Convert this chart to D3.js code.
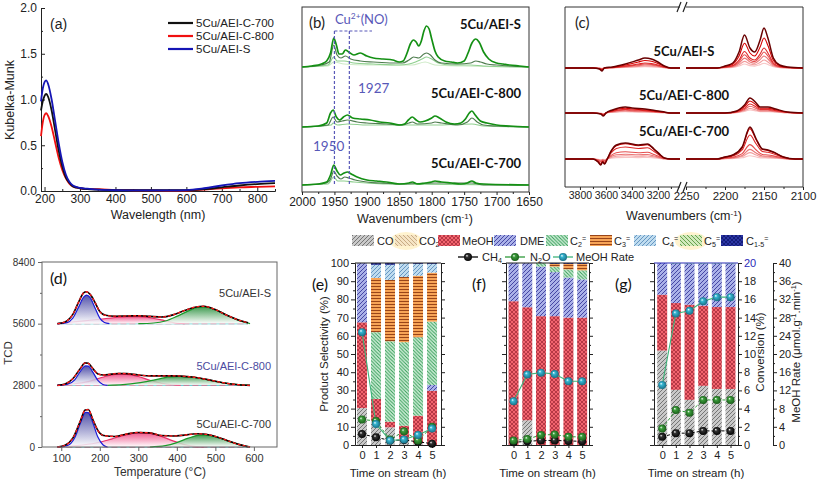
<!DOCTYPE html>
<html><head><meta charset="utf-8">
<script src="https://cdn.jsdelivr.net/npm/d3@7"></script>
<style>body{margin:0;background:#fff} svg{display:block}</style>
</head><body><svg id="c" width="817" height="481"></svg>
<script>
// ---------------- DATA ----------------
// (a) UV-vis
const A_WL   = [190,195,200,205,210,220,230,240,250,260,270,280,300,320,350,400,450,500,550,600,650,700,750,800,850];
const A_C700 = [0.88,0.98,1.04,1.06,1.03,0.88,0.66,0.44,0.27,0.15,0.09,0.05,0.03,0.02,0.015,0.01,0.01,0.01,0.01,0.01,0.02,0.04,0.06,0.075,0.085];
const A_C800 = [0.60,0.75,0.83,0.85,0.82,0.70,0.53,0.36,0.23,0.14,0.08,0.05,0.03,0.02,0.02,0.01,0.008,0.006,0.005,0.005,0.015,0.03,0.04,0.045,0.05];
const A_S    = [0.98,1.12,1.19,1.21,1.17,1.00,0.76,0.52,0.32,0.18,0.10,0.06,0.035,0.025,0.015,0.008,0.006,0.006,0.007,0.01,0.03,0.06,0.085,0.10,0.11];
const A_NAMES = ["5Cu/AEI-C-700","5Cu/AEI-C-800","5Cu/AEI-S"];
const A_XTICKS = [200,300,400,500,600,700,800];
const A_YTICKS = [0,0.5,1.0,1.5,2.0];

// (b) NO-IR, [wavenumber, intensity above own baseline]
const B_NAMES = ["5Cu/AEI-S","5Cu/AEI-C-800","5Cu/AEI-C-700"];
const B_OFFSETS = [125, 65, 7];
const B_S_DARK = [[2000,0],[1985,1],[1970,3],[1962,6],[1956,14],[1951,29],[1947,22],[1943,13],[1938,13],[1933,17],[1928,15],[1920,12],[1910,14],[1900,11],[1890,9],[1875,8],[1860,7],[1850,5],[1844,6],[1838,14],[1833,23],[1828,27],[1824,25],[1820,21],[1816,26],[1812,36],[1808,41],[1804,38],[1800,28],[1795,16],[1790,10],[1780,6],[1770,5],[1760,4],[1750,6],[1744,14],[1738,24],[1732,28],[1727,25],[1720,15],[1712,8],[1700,4],[1690,3],[1680,2],[1665,1],[1650,0]];
const B_S_MID = [[2000,0],[1970,2],[1958,5],[1951,22],[1946,12],[1940,9],[1933,11],[1925,8],[1910,6],[1890,5],[1860,4],[1845,4],[1835,7],[1828,10],[1820,9],[1812,13],[1808,14],[1802,12],[1795,7],[1785,4],[1760,3],[1740,4],[1732,6],[1725,5],[1715,3],[1700,2],[1680,1],[1650,0]];
const B_S_LIGHT = [[2000,0],[1960,2],[1951,10],[1946,6],[1935,6],[1920,4],[1890,3],[1850,2],[1835,3],[1825,5],[1815,8],[1808,10],[1800,8],[1790,4],[1770,2],[1740,2],[1720,1],[1650,0]];
const B_S_PALE = [[2000,0],[1960,1],[1951,5],[1935,3],[1900,2],[1830,2],[1810,5],[1795,2],[1750,1],[1650,0]];
const B_800_DARK = [[2000,0],[1975,1],[1962,4],[1956,14],[1952,17],[1947,10],[1942,7],[1936,10],[1930,12],[1922,9],[1910,8],[1895,7],[1880,5],[1865,4],[1850,2],[1842,3],[1836,7],[1830,10],[1824,7],[1818,5],[1810,6],[1800,9],[1795,11],[1788,9],[1778,5],[1765,3],[1755,4],[1748,8],[1742,14],[1738,16],[1733,12],[1725,6],[1715,4],[1700,2],[1680,1],[1650,0]];
const B_800_MID = [[2000,0],[1960,2],[1952,10],[1946,5],[1938,6],[1930,7],[1915,5],[1900,4],[1870,3],[1845,2],[1835,4],[1830,5],[1822,3],[1800,4],[1795,5],[1785,4],[1760,2],[1745,5],[1738,9],[1730,5],[1720,2],[1700,1],[1650,0]];
const B_800_LIGHT = [[2000,0],[1955,2],[1952,4],[1945,2],[1930,3],[1900,2],[1830,2],[1795,2],[1738,3],[1720,1],[1650,0]];
const B_700_DARK = [[2000,0],[1975,1],[1962,3],[1956,10],[1951,20],[1946,14],[1941,10],[1935,12],[1930,13],[1924,11],[1915,8],[1900,5],[1885,4],[1870,3],[1850,1],[1835,2],[1830,3],[1822,1],[1810,2],[1800,3],[1795,4],[1785,3],[1770,2],[1755,1],[1745,2],[1738,4],[1732,2],[1720,1],[1650,0]];
const B_700_MID = [[2000,0],[1962,2],[1956,6],[1951,14],[1946,9],[1940,6],[1934,8],[1928,7],[1918,5],[1900,3],[1880,2],[1850,1],[1795,2],[1738,2],[1720,0],[1650,0]];
const B_700_LIGHT = [[2000,0],[1960,1],[1951,8],[1945,4],[1935,4],[1920,3],[1900,2],[1870,1],[1650,0]];
const B_XTICKS = [2000,1950,1900,1850,1800,1750,1700,1650];
const B_MARKS = [1950, 1927];

// (c) CO-IR, broken axis
const C_NAMES = ["5Cu/AEI-S","5Cu/AEI-C-800","5Cu/AEI-C-700"];
const C_OFFSETS = [119, 74, 28];
const C_S_LEFT  = [[3915,0],[3700,0],[3650,-1],[3630,-3],[3612,0],[3550,1],[3450,4],[3350,8],[3300,10],[3250,9],[3200,6],[3150,2],[3100,0],[3030,0]];
const C_S_RIGHT = [[2250,0],[2210,0],[2200,2],[2190,5],[2182,16],[2175,33],[2168,20],[2162,16],[2155,28],[2150,40],[2145,30],[2138,10],[2130,3],[2120,1],[2100,0]];
const C_800_LEFT  = [[3915,0],[3700,0],[3640,-1],[3620,-3],[3600,0],[3550,3],[3450,6],[3400,5],[3300,4],[3200,2],[3150,1],[3100,0],[3030,0]];
const C_800_RIGHT = [[2250,0],[2200,0],[2185,2],[2175,8],[2168,15],[2160,10],[2155,6],[2145,6],[2135,4],[2120,1],[2100,0]];
const C_700_LEFT  = [[3915,0],[3700,0],[3660,-3],[3640,-6],[3625,-3],[3610,-5],[3590,0],[3560,8],[3520,14],[3450,16],[3350,14],[3280,15],[3230,10],[3180,4],[3150,1],[3100,0],[3030,0]];
const C_700_RIGHT = [[2250,0],[2210,0],[2200,2],[2190,4],[2178,12],[2168,32],[2160,20],[2152,10],[2145,9],[2138,7],[2125,2],[2110,0],[2100,0]];
const C_S_LEVELS   = [0.12,0.2,0.3,0.4,0.5,0.75,1.0];
const C_800_LEVELS = [0.2,0.3,0.45,0.6,0.8,1.0];
const C_700_LEVELS = [0.1,0.2,0.3,0.45,0.75,0.95,1.0];
const C_XTICKS_L = [3800,3600,3400,3200];
const C_XTICKS_R = [2250,2200,2150,2100];

// (d) H2-TPR, [temperature, TCD above own baseline]
const D_NAMES = ["5Cu/AEI-S","5Cu/AEI-C-800","5Cu/AEI-C-700"];
const D_OFFSETS = [5600, 2800, 0];
const D_S_BLUE  = [[90,0],[115,50],[130,250],[145,750],[158,1200],[166,1300],[175,1180],[188,700],[200,250],[212,50],[225,0]];
const D_S_PINK  = [[90,0],[120,60],[160,130],[200,200],[240,280],[270,320],[300,320],[330,270],[360,170],[380,80],[400,20],[420,0]];
const D_S_GREEN = [[300,0],[340,30],[370,120],[400,330],[430,580],[460,760],[480,740],[510,560],[540,300],[560,150],[580,50],[590,0]];
const D_S_TOTAL = [[90,0],[110,80],[130,420],[145,980],[158,1400],[165,1450],[175,1330],[188,950],[200,550],[215,380],[240,340],[270,350],[300,360],[330,330],[360,300],[390,400],[420,600],[450,760],[470,790],[500,640],[530,380],[560,170],[585,40]];
const D_800_BLUE  = [[90,0],[115,40],[135,250],[150,650],[163,880],[170,870],[182,600],[195,220],[208,40],[220,0]];
const D_800_PINK  = [[90,0],[130,60],[170,170],[210,380],[240,500],[270,500],[300,400],[330,230],[360,90],[390,20],[410,0]];
const D_800_GREEN = [[220,0],[260,30],[300,110],[340,240],[380,380],[410,410],[440,370],[480,250],[520,110],[560,30],[590,0]];
const D_800_TOTAL = [[90,0],[110,60],[130,300],[150,780],[162,1020],[170,1000],[182,760],[195,520],[210,470],[230,510],[250,540],[270,530],[300,470],[330,430],[360,430],[390,430],[410,420],[440,380],[480,260],[520,120],[560,30],[590,0]];
const D_700_BLUE  = [[90,0],[115,60],[135,420],[150,1100],[163,1570],[170,1560],[182,1100],[195,450],[208,100],[220,0]];
const D_700_PINK  = [[90,0],[140,60],[190,180],[230,360],[270,560],[300,640],[330,620],[360,480],[390,280],[420,110],[450,20],[470,0]];
const D_700_GREEN = [[330,0],[370,60],[400,200],[430,400],[460,540],[480,540],[510,420],[540,230],[570,70],[590,0]];
const D_700_TOTAL = [[90,0],[110,80],[130,400],[150,1200],[162,1680],[170,1700],[182,1250],[195,750],[210,520],[240,480],[270,590],[300,660],[330,640],[360,520],[390,500],[420,540],[450,600],[470,590],[500,480],[530,300],[560,120],[590,0]];
const D_XTICKS = [100,200,300,400,500,600];
const D_YTICKS = [0,2800,5600,8400];

// (e)(f)(g) product selectivity (%) at time on stream 0..5 h
const TIMES = [0,1,2,3,4,5];
const SEL_KEYS = ["CO","CO2","MeOH","DME","C2","C3","C4","C5","C15"];
const E_CO   = [20.3,13.4,9.7,3,1,0];
const E_CO2  = [0,0,0,0,0,0];
const E_MEOH = [47.1,11.9,3.1,7.6,15.1,29.8];
const E_DME  = [32.6,0,0,0,0,3.2];
const E_C2   = [0,36.7,44.2,45.9,43.1,34.8];
const E_C3   = [0,29.8,33.7,35.8,33.8,26.9];
const E_C4   = [0,7.2,8.3,7.7,6.5,4.8];
const E_C5   = [0,0,0,0,0,0];
const E_C15  = [0,1,1,0,0.5,0.5];
const F_CO   = [0,13.6,0,0,0,0];
const F_CO2  = [0,0,0,0,0,0];
const F_MEOH = [79,62.1,70.8,70.8,70,70];
const F_DME  = [21,24.3,27.2,24.2,22,21];
const F_C2   = [0,0,2,3,4.5,5];
const F_C3   = [0,0,0,1.5,3,3.5];
const F_C4   = [0,0,0,0,0,0];
const F_C5   = [0,0,0,0,0,0];
const F_C15  = [0,0,0,0.5,0.5,0.5];
const G_CO   = [51.9,30.3,24.8,32.5,30.8,30.8];
const G_CO2  = [0,0,0,0,0,0];
const G_MEOH = [30.7,47.7,52.3,44,45,45];
const G_DME  = [17.4,21.5,22.4,23,23.7,23.7];
const G_C2   = [0,0.5,0.5,0.5,0.5,0.5];
const G_C3   = [0,0,0,0,0,0];
const G_C4   = [0,0,0,0,0,0];
const G_C5   = [0,0,0,0,0,0];
const G_C15  = [0,0,0,0,0,0];
// conversion (%) and MeOH rate (umol g-1 min-1)
const E_CH4 = [1.2,0.85,0.5,0.55,0.35,0.15];
const E_N2O = [2.8,2.65,0.6,1.5,0.5,2.0];
const E_RATE = [24.8,4.6,1.0,1.2,2.2,3.6];
const F_CH4 = [0.3,0.4,0.5,0.5,0.45,0.4];
const F_N2O = [0.5,0.65,1.1,1.15,0.9,0.9];
const F_RATE = [9.6,15.5,15.9,15.6,14.0,14.0];
const G_CH4 = [0.9,1.3,1.3,1.55,1.55,1.55];
const G_N2O = [1.8,3.85,3.55,4.95,4.95,4.95];
const G_RATE = [13.2,28.9,29.5,31.6,32.5,32.5];
const SEL_TICKS = [0,10,20,30,40,50,60,70,80,90,100];
const CONV_TICKS = [0,2,4,6,8,10,12,14,16,18,20];
const RATE_TICKS = [0,4,8,12,16,20,24,28,32,36,40];

// ---------------- DRAWING ----------------
const ARIAL = '"Liberation Sans", Arial, sans-serif';
const CAL = 'Lato, "Open Sans", sans-serif';
const svg = d3.select("#c");
svg.append("rect").attr("width",817).attr("height",481).attr("fill","#fff");
const defs = svg.append("defs");
const fmtD = d3.format("d");

function ax(parent, gen, t, o = {}) {
  const col = o.color || "#222";
  const g = parent.append("g").attr("transform", t).call(gen);
  g.selectAll("text").attr("font-size", o.fs || 11).attr("font-family", o.ff || ARIAL).attr("fill", o.tcolor || col);
  g.select(".domain").attr("stroke", col).attr("stroke-width", o.sw || 1);
  g.selectAll(".tick line").attr("stroke", col).attr("stroke-width", o.tw || 1);
  if (o.noDomain) g.select(".domain").remove();
  return g;
}
function text(parent, x, y, parts, o = {}) {
  const fs = o.fs || 11;
  const t = parent.append("text").attr("x", x).attr("y", y)
    .attr("font-family", o.ff || ARIAL).attr("font-size", fs)
    .attr("fill", o.color || "#222").attr("text-anchor", o.anchor || "start")
    .attr("font-weight", o.fw || "normal");
  if (o.rotate) t.attr("transform", `rotate(-90,${x},${y})`);
  (Array.isArray(parts) ? parts : [[parts, ""]]).forEach(([s, k]) => {
    const ts = t.append("tspan").text(s);
    if (k === "sub") ts.attr("baseline-shift", -Math.round(fs*0.2)).attr("font-size", fs * 0.65);
    if (k === "sup") ts.attr("baseline-shift", Math.round(fs*0.35)).attr("font-size", fs * 0.65);
  });
  return t;
}
const wn = [["Wavenumbers (cm",""],["-1","sup"],[")",""]];

// ===== (a) =====
{
  const x = d3.scaleLinear([190,850],[41,275]);
  const y = d3.scaleLinear([0,2],[191,8]);
  const g = svg.append("g");
  ax(g, d3.axisBottom(x).tickValues(d3.range(250,851,100)).tickSize(-2).tickFormat("").tickSizeOuter(0), "translate(0,191)");
  ax(g, d3.axisBottom(x).tickValues(A_XTICKS).tickSize(-4).tickPadding(3).tickSizeOuter(0), "translate(0,191)", {fs:12});
  ax(g, d3.axisLeft(y).tickValues(d3.range(0.25,2,0.5)).tickSize(-2).tickFormat("").tickSizeOuter(0), "translate(41,0)");
  ax(g, d3.axisLeft(y).tickValues(A_YTICKS).tickSize(-4).tickPadding(4).tickFormat(d3.format(".1f")).tickSizeOuter(0), "translate(41,0)", {fs:12});
  text(g, 158, 219, "Wavelength (nm)", {fs:12.5, anchor:"middle"});
  text(g, 14, 100, "Kubelka-Munk", {fs:12.5, anchor:"middle", rotate:true});
  text(g, 50, 29, "(a)", {fs:14});
  const series = [A_C700, A_C800, A_S];
  const cols = ["#111", "#f01010", "#1515b5"];
  const line = d3.line().x((d,i)=>x(A_WL[i])).y(d=>y(d)).curve(d3.curveMonotoneX);
  [1,0,2].forEach(k => g.append("path").attr("d", line(series[k])).attr("fill","none").attr("stroke",cols[k]).attr("stroke-width",1.8));
  A_NAMES.forEach((n,i) => {
    g.append("line").attr("x1",168).attr("x2",193).attr("y1",23+i*13).attr("y2",23+i*13).attr("stroke",cols[i]).attr("stroke-width",2.2);
    text(g, 196, 27+i*13, n, {fs:11.5});
  });
}

// ===== (b) =====
{
  const x = d3.scaleLinear([2000,1650],[302,529]);
  const y = d3.scaleLinear([0,185],[192,7]);
  const g = svg.append("g");
  g.append("rect").attr("x",302).attr("y",7).attr("width",227).attr("height",185).attr("fill","none").attr("stroke","#333");
  ax(g, d3.axisBottom(x).tickValues(d3.range(1975,1650,-50)).tickSize(2).tickFormat("").tickSizeOuter(0), "translate(0,192)", {noDomain:true});
  ax(g, d3.axisBottom(x).tickValues(B_XTICKS).tickSize(3).tickPadding(2).tickFormat(fmtD).tickSizeOuter(0), "translate(0,192)", {fs:12, noDomain:true});
  text(g, 415, 223, wn, {fs:12.5, anchor:"middle"});
  const sets = [[B_S_PALE,B_S_LIGHT,B_S_MID,B_S_DARK],[B_800_LIGHT,B_800_MID,B_800_DARK],[B_700_LIGHT,B_700_MID,B_700_DARK]];
  const cols = {4:["#cdeac6","#8fd08f","#4f7d4f","#149014"], 3:["#8fd08f","#4f7d4f","#149014"]};
  sets.forEach((set, si) => {
    const line = d3.line().x(d=>x(d[0])).y(d=>y(d[1]+B_OFFSETS[si])).curve(d3.curveMonotoneX);
    set.forEach((c, ci) => g.append("path").attr("d", line(c)).attr("fill","none")
      .attr("stroke", cols[set.length][ci]).attr("stroke-width", ci===set.length-1 ? 1.7 : 1.2));
  });
  const dc = "#5858b8";
  B_MARKS.forEach(m => g.append("line").attr("x1",x(m)).attr("x2",x(m)).attr("y1",31).attr("y2",186)
    .attr("stroke",dc).attr("stroke-width",1.2).attr("stroke-dasharray","3,2"));
  g.append("line").attr("x1",x(1950)).attr("x2",372).attr("y1",31).attr("y2",31).attr("stroke",dc).attr("stroke-width",1.2).attr("stroke-dasharray","3,2");
  text(g, 335, 24, [["Cu",""],["2+","sup"],["(NO)",""]], {fs:13, ff:CAL, color:dc});
  text(g, 358, 93, String(B_MARKS[1]), {fs:13.5, ff:CAL, color:dc});
  text(g, 313, 151, String(B_MARKS[0]), {fs:13.5, ff:CAL, color:dc});
  text(g, 309, 28, "(b)", {fs:15, ff:CAL});
  const ly = [29, 98, 168];
  B_NAMES.forEach((n,i) => text(g, 521, ly[i], n, {fs:13, ff:CAL, fw:"bold", anchor:"end", color:"#111"}));
}

// ===== (c) =====
{
  const xl = d3.scaleLinear([3915,3030],[565,680]);
  const xr = d3.scaleLinear([2250,2100],[686,803]);
  const y = d3.scaleLinear([0,180],[187,7]);
  const g = svg.append("g");
  [[565,680],[686,803]].forEach(([a,b]) => {
    g.append("line").attr("x1",a).attr("x2",b).attr("y1",7).attr("y2",7).attr("stroke","#333");
    g.append("line").attr("x1",a).attr("x2",b).attr("y1",187).attr("y2",187).attr("stroke","#333");
  });
  g.append("line").attr("x1",565).attr("x2",565).attr("y1",7).attr("y2",187).attr("stroke","#333");
  g.append("line").attr("x1",803).attr("x2",803).attr("y1",7).attr("y2",187).attr("stroke","#333");
  [7,187].forEach(yy => [679,685].forEach(xx => g.append("line").attr("x1",xx-2).attr("x2",xx+2).attr("y1",yy+5).attr("y2",yy-5).attr("stroke","#222").attr("stroke-width",1.2)));
  ax(g, d3.axisBottom(xl).tickValues(C_XTICKS_L).tickSize(3).tickPadding(2).tickFormat(fmtD), "translate(0,187)", {fs:10.5, noDomain:true});
  ax(g, d3.axisBottom(xr).tickValues(C_XTICKS_R).tickSize(3).tickPadding(2).tickFormat(fmtD), "translate(0,187)", {fs:11.5, noDomain:true});
  ax(g, d3.axisBottom(xl).tickValues([3700,3500,3300,3100]).tickSize(2).tickFormat(""), "translate(0,187)", {noDomain:true});
  ax(g, d3.axisBottom(xr).tickValues([2225,2175,2125]).tickSize(2).tickFormat(""), "translate(0,187)", {noDomain:true});
  text(g, 684, 220, wn, {fs:12.5, anchor:"middle"});
  text(g, 575, 28, "(c)", {fs:15, ff:CAL});
  const sets = [[C_S_LEFT,C_S_RIGHT,C_S_LEVELS],[C_800_LEFT,C_800_RIGHT,C_800_LEVELS],[C_700_LEFT,C_700_RIGHT,C_700_LEVELS]];
  sets.forEach(([L,R,levels], si) => {
    levels.forEach((f, li) => {
      const last = li === levels.length-1;
      const t = li/(levels.length-2);
      const col = last ? "#6a0000" : d3.interpolateRgb("#f8c4c4", "#d80000")(t);
      const ll = d3.line().x(d=>xl(d[0])).y(d=>y(d[1]*f + C_OFFSETS[si])).curve(d3.curveMonotoneX);
      const lr = d3.line().x(d=>xr(d[0])).y(d=>y(d[1]*f + C_OFFSETS[si])).curve(d3.curveMonotoneX);
      g.append("path").attr("d", ll(L)).attr("fill","none").attr("stroke",col).attr("stroke-width", last?1.5:1.1);
      g.append("path").attr("d", lr(R)).attr("fill","none").attr("stroke",col).attr("stroke-width", last?1.5:1.1);
    });
  });
  const ly = [56, 100, 136];
  C_NAMES.forEach((n,i) => text(g, 684, ly[i], n, {fs:13, ff:CAL, fw:"bold", anchor:"middle", color:"#111"}));
}

// ===== (d) =====
{
  const x = d3.scaleLinear([50,660],[42,277]);
  const y = d3.scaleLinear([0,8400],[447,262]);
  const g = svg.append("g");
  const grads = [["gBlue","#34349a"],["gPink","#ee3f7c"],["gGreen","#1f8a33"]];
  grads.forEach(([id,c]) => {
    const lg = defs.append("linearGradient").attr("id",id).attr("x1",0).attr("y1",0).attr("x2",0).attr("y2",1);
    lg.append("stop").attr("offset","0%").attr("stop-color",c);
    lg.append("stop").attr("offset","100%").attr("stop-color","#fff");
  });
  const sets = [[D_S_BLUE,D_S_PINK,D_S_GREEN,D_S_TOTAL],[D_800_BLUE,D_800_PINK,D_800_GREEN,D_800_TOTAL],[D_700_BLUE,D_700_PINK,D_700_GREEN,D_700_TOTAL]];
  const lineCols = ["#1a1ad8","#ea2f6a","#1a9a2a"];
  sets.forEach((set, si) => {
    const off = D_OFFSETS[si];
    const area = d3.area().x(d=>x(d[0])).y0(y(off)).y1(d=>y(d[1]+off)).curve(d3.curveMonotoneX);
    const line = d3.line().x(d=>x(d[0])).y(d=>y(d[1]+off)).curve(d3.curveMonotoneX);
    g.append("line").attr("x1",x(90)).attr("x2",x(585)).attr("y1",y(off)).attr("y2",y(off)).attr("stroke","#3cc6c6").attr("stroke-width",1.2);
    g.append("line").attr("x1",x(90)).attr("x2",x(585)).attr("y1",y(off)).attr("y2",y(off)).attr("stroke","#e03c6c").attr("stroke-width",0.9).attr("stroke-dasharray","6,3");
    [1,2,0].forEach(k => {
      g.append("path").attr("d", area(set[k])).attr("fill", `url(#${grads[k][0]})`).attr("fill-opacity",0.85);
      g.append("path").attr("d", line(set[k])).attr("fill","none").attr("stroke",lineCols[k]).attr("stroke-width",1.2);
    });
    g.append("path").attr("d", line(set[3])).attr("fill","none").attr("stroke","#000").attr("stroke-width",1.6);
    g.append("path").attr("d", line(set[3])).attr("fill","none").attr("stroke","#ff1a1a").attr("stroke-width",1.3).attr("stroke-dasharray","3,2");
  });
  g.append("rect").attr("x",42).attr("y",262).attr("width",235).attr("height",185).attr("fill","none").attr("stroke","#666");
  ax(g, d3.axisBottom(x).tickValues(D_XTICKS).tickSize(4).tickPadding(3).tickFormat(fmtD).tickSizeOuter(0), "translate(0,447)", {fs:11, color:"#666", tcolor:"#333", noDomain:true});
  ax(g, d3.axisLeft(y).tickValues(D_YTICKS).tickSize(4).tickPadding(3).tickFormat(fmtD).tickSizeOuter(0), "translate(42,0)", {fs:10, color:"#666", tcolor:"#333", noDomain:true});
  ax(g, d3.axisLeft(y).tickValues([1400,4200,7000]).tickSize(2).tickFormat("").tickSizeOuter(0), "translate(42,0)", {color:"#666", noDomain:true});
  text(g, 160, 476, "Temperature (\u00B0C)", {fs:12, anchor:"middle", color:"#333"});
  text(g, 12, 353, "TCD", {fs:11.5, anchor:"middle", rotate:true, color:"#333"});
  text(g, 50, 284, "(d)", {fs:16, ff:CAL, color:"#111"});
  const ly = [297, 370, 428];
  const lc = ["#333","#4b4ba0","#333"];
  D_NAMES.forEach((n,i) => text(g, 271, ly[i], n, {fs:11, anchor:"end", color:lc[i]}));
}

// ===== patterns for (e)-(g) =====
function hatch(id, bg, stroke, kinds, s, sw) {
  const p = defs.append("pattern").attr("id",id).attr("patternUnits","userSpaceOnUse").attr("width",s).attr("height",s);
  p.append("rect").attr("width",s).attr("height",s).attr("fill",bg);
  const d = {
    fwd: `M0,${s} L${s},0 M${-s/2},${s/2} L${s/2},${-s/2} M${s/2},${s*1.5} L${s*1.5},${s/2}`,
    back: `M0,0 L${s},${s} M${-s/2},${s/2} L${s/2},${s*1.5} M${s/2},${-s/2} L${s*1.5},${s/2}`,
    horiz: `M0,${s/2} L${s},${s/2}`
  };
  kinds.forEach(k => p.append("path").attr("d", d[k]).attr("stroke", stroke).attr("stroke-width", sw).attr("fill","none"));
}
const PAT = {
  CO:   ["#c9c9c9","#6c6c6c",["fwd"],4,0.9],
  CO2:  ["#f5e4c4","#bd9d72",["back"],4,0.8],
  MeOH: ["#f2646e","#9c2534",["fwd","back"],4,0.7],
  DME:  ["#aab1e8","#3b3b9c",["fwd"],4,0.9],
  C2:   ["#cfeed8","#2e9a52",["back"],3.5,0.9],
  C3:   ["#f7a457","#8f3a12",["horiz"],3,0.9],
  C4:   ["#bfdcef","#5c8fbd",["fwd"],4,0.9],
  C5:   ["#d2eabc","#5c9a40",["back"],4,0.9],
  C15:  ["#2b35a3","#0e1670",["fwd","back"],4,0.8]
};
Object.entries(PAT).forEach(([k,v]) => hatch("p"+k, ...v));
function ball(id, c, dark) {
  const rg = defs.append("radialGradient").attr("id",id).attr("cx","50%").attr("cy","50%").attr("r","55%").attr("fx","35%").attr("fy","32%");
  rg.append("stop").attr("offset","0%").attr("stop-color","#fff");
  rg.append("stop").attr("offset","30%").attr("stop-color",c);
  rg.append("stop").attr("offset","100%").attr("stop-color",dark);
}
ball("bBlack","#333","#000"); ball("bGreen","#3d9d3d","#165816"); ball("bCyan","#36b6d2","#17687e");

// legend
{
  const g = svg.append("g");
  const labels = [
    [["CO",""]], [["CO",""],["2","sub"]], [["MeOH",""]], [["DME",""]],
    [["C",""],["2","sub"],["=","sup"]], [["C",""],["3","sub"],["=","sup"]], [["C",""],["4","sub"],["=","sup"]],
    [["C",""],["5","sub"],["=","sup"]], [["C",""],["1-5","sub"],["=","sup"]]
  ];
  const sx = [352,395,438,494,546,590,634,680,721];
  const tx = [377,419,462,520,570,614,662,704,746];
  g.append("ellipse").attr("cx",406).attr("cy",241).attr("rx",16).attr("ry",9).attr("fill","#fff3cf");
  g.append("ellipse").attr("cx",691).attr("cy",241).attr("rx",16).attr("ry",9).attr("fill","#fff3cf");
  SEL_KEYS.forEach((k,i) => {
    g.append("rect").attr("x",sx[i]).attr("y",235).attr("width",22).attr("height",11).attr("fill",`url(#p${k})`);
    text(g, tx[i], 245, labels[i], {fs:11});
  });
  const items = [["bBlack","#000",468,482,[["CH",""],["4","sub"]]],["bGreen","#2f9a3a",515,530,[["N",""],["2","sub"],["O",""]]],["bCyan","#3fb37a",563,576,[["MeOH Rate",""]]]];
  items.forEach(([b,c,cx,t,lab]) => {
    g.append("line").attr("x1",cx-10).attr("x2",cx+10).attr("y1",257).attr("y2",257).attr("stroke",c).attr("stroke-width",1.3);
    g.append("circle").attr("cx",cx).attr("cy",257).attr("r",4).attr("fill",`url(#${b})`);
    text(g, t, 261, lab, {fs:11});
  });
}

// ===== (e)(f)(g) =====
function selPanel(cfg) {
  const g = svg.append("g");
  const x = d3.scaleLinear(cfg.dom, [cfg.l, cfg.r]);
  const y = d3.scaleLinear([0,100],[445,263]);
  const yc = d3.scaleLinear([0,20],[445,263]);
  const yr = d3.scaleLinear([0,40],[445,263]);
  const rows = TIMES.map((t,i) => { const o = {t}; SEL_KEYS.forEach((k,j) => o[k] = cfg.sel[j][i]); return o; });
  const stack = d3.stack().keys(SEL_KEYS)(rows);
  const bw = 10;
  stack.forEach(layer => {
    g.selectAll(null).data(layer).join("rect")
      .attr("x", d => x(d.data.t) - bw/2).attr("width", bw)
      .attr("y", d => y(d[1])).attr("height", d => Math.max(0, y(d[0]) - y(d[1])))
      .attr("fill", `url(#p${layer.key})`);
  });
  // axes
  ax(g, d3.axisBottom(x).tickValues(TIMES).tickSize(3).tickPadding(3).tickFormat(fmtD).tickSizeOuter(0), "translate(0,445)", {fs:11});
  ax(g, d3.axisLeft(y).tickValues(d3.range(5,100,10)).tickSize(2).tickFormat("").tickSizeOuter(0), `translate(${cfg.l},0)`);
  const la = ax(g, d3.axisLeft(y).tickValues(SEL_TICKS).tickSize(4).tickPadding(2).tickFormat(fmtD).tickSizeOuter(0), `translate(${cfg.l},0)`, {fs:11});
  if (!cfg.leftLabels) la.selectAll("text").remove();
  ax(g, d3.axisRight(yc).tickValues(d3.range(1,20,2)).tickSize(2).tickFormat("").tickSizeOuter(0), `translate(${cfg.r},0)`);
  const ra = ax(g, d3.axisRight(yc).tickValues(CONV_TICKS).tickSize(4).tickPadding(2).tickFormat(fmtD).tickSizeOuter(0), `translate(${cfg.r},0)`, {fs:11});
  if (!cfg.rightLabels) ra.selectAll("text").remove();
  else ra.selectAll(".tick text").filter(d => d === 20).attr("fill","#2a2ab8");
  g.append("line").attr("x1",cfg.l).attr("x2",cfg.r).attr("y1",263).attr("y2",263).attr("stroke",cfg.topColor||"#222").attr("stroke-width",1.2);
  text(g, (cfg.l+cfg.r)/2, 477, "Time on stream (h)", {fs:11.5, anchor:"middle"});
  text(g, cfg.lx, 290, cfg.label, {fs:16, ff:CAL, color:"#111"});
  // points
  const lineC = d3.line().x((d,i)=>x(TIMES[i])).y(d=>yc(d));
  const lineR = d3.line().x((d,i)=>x(TIMES[i])).y(d=>yr(d));
  g.append("path").attr("d", lineC(cfg.ch4)).attr("fill","none").attr("stroke","#000").attr("stroke-width",1).attr("stroke-dasharray","3,2");
  g.append("path").attr("d", lineC(cfg.n2o)).attr("fill","none").attr("stroke","#2f9a3a").attr("stroke-width",1).attr("stroke-dasharray","3,2");
  g.append("path").attr("d", lineR(cfg.rate)).attr("fill","none").attr("stroke","#3fb37a").attr("stroke-width",1.1);
  const dots = (arr, sc, b) => g.selectAll(null).data(arr).join("circle").attr("cx",(d,i)=>x(TIMES[i])).attr("cy",d=>sc(d)).attr("r",4).attr("fill",`url(#${b})`);
  dots(cfg.ch4, yc, "bBlack"); dots(cfg.n2o, yc, "bGreen"); dots(cfg.rate, yr, "bCyan");
  return {g, yc, yr};
}
const pe = selPanel({dom:[-0.5,5.64], l:355, r:441, sel:[E_CO,E_CO2,E_MEOH,E_DME,E_C2,E_C3,E_C4,E_C5,E_C15], ch4:E_CH4, n2o:E_N2O, rate:E_RATE, leftLabels:true, label:"(e)", lx:312});
text(pe.g, 328, 354, "Product Selectivity (%)", {fs:11.5, anchor:"middle", rotate:true});
selPanel({dom:[-0.55,5.5], l:506, r:589, sel:[F_CO,F_CO2,F_MEOH,F_DME,F_C2,F_C3,F_C4,F_C5,F_C15], ch4:F_CH4, n2o:F_N2O, rate:F_RATE, label:"(f)", lx:472});
const pg = selPanel({dom:[-0.6,5.55], l:654, r:738, sel:[G_CO,G_CO2,G_MEOH,G_DME,G_C2,G_C3,G_C4,G_C5,G_C15], ch4:G_CH4, n2o:G_N2O, rate:G_RATE, rightLabels:true, topColor:"#2a2ab8", label:"(g)", lx:615});
text(pg.g, 764, 352, "Conversion (%)", {fs:11.5, anchor:"middle", rotate:true});
ax(pg.g, d3.axisRight(pg.yr).tickValues(d3.range(2,40,4)).tickSize(2).tickFormat("").tickSizeOuter(0), "translate(773,0)");
ax(pg.g, d3.axisRight(pg.yr).tickValues(RATE_TICKS).tickSize(4).tickPadding(2).tickFormat(fmtD).tickSizeOuter(0), "translate(773,0)", {fs:11});
text(pg.g, 800, 352, [["MeOH Rate (\u03BCmol.g",""],["-1","sup"],[".min",""],["-1","sup"],[")",""]], {fs:11.5, anchor:"middle", rotate:true});
</script></body></html>
